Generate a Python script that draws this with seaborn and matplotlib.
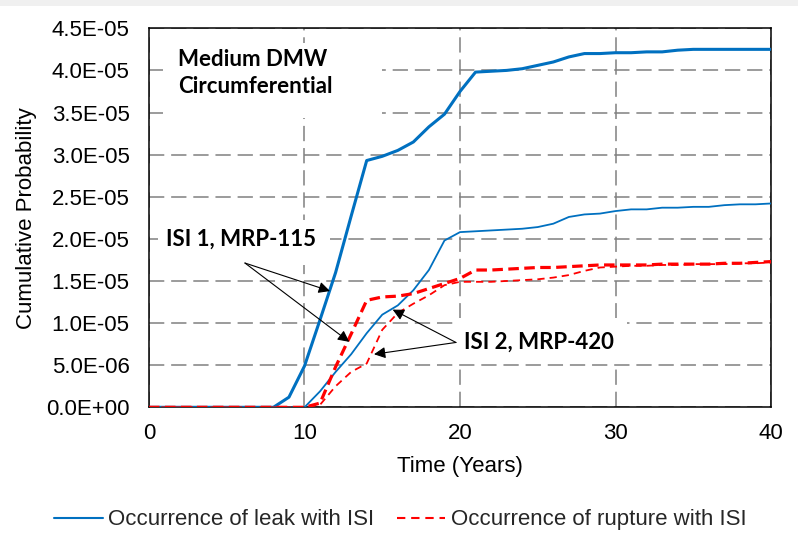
import numpy as np
import matplotlib.pyplot as plt
import seaborn as sns
from matplotlib.lines import Line2D
from matplotlib.patches import Rectangle
from matplotlib.ticker import MultipleLocator, FuncFormatter

# values, in units of 1E-05
years = list(range(0, 41))
leak_isi1 = [0, 0, 0, 0, 0, 0, 0, 0, 0, 0.12,
             0.49, 1.04, 1.60, 2.27, 2.93, 2.98, 3.05, 3.15, 3.33, 3.48,
             3.75, 3.98, 3.99, 4.00, 4.02, 4.06, 4.10, 4.16, 4.20, 4.20,
             4.21, 4.21, 4.22, 4.22, 4.24, 4.25, 4.25, 4.25, 4.25, 4.25, 4.25]
leak_isi2 = [0, 0, 0, 0, 0, 0, 0, 0, 0, 0,
             0, 0.19, 0.42, 0.63, 0.88, 1.10, 1.21, 1.39, 1.63, 1.98,
             2.08, 2.09, 2.10, 2.11, 2.12, 2.14, 2.18, 2.26, 2.29, 2.30,
             2.33, 2.35, 2.35, 2.37, 2.37, 2.38, 2.38, 2.40, 2.41, 2.41, 2.42]
rupture_isi1 = [0, 0, 0, 0, 0, 0, 0, 0, 0, 0,
                0, 0.05, 0.48, 0.87, 1.27, 1.31, 1.32, 1.35, 1.41, 1.47,
                1.53, 1.63, 1.63, 1.64, 1.65, 1.66, 1.66, 1.67, 1.68, 1.69,
                1.69, 1.69, 1.69, 1.70, 1.70, 1.70, 1.70, 1.71, 1.71, 1.72, 1.73]
rupture_isi2 = [0, 0, 0, 0, 0, 0, 0, 0, 0, 0,
                0, 0.03, 0.25, 0.42, 0.52, 0.92, 1.12, 1.23, 1.33, 1.45,
                1.49, 1.49, 1.49, 1.50, 1.51, 1.52, 1.54, 1.57, 1.62, 1.66,
                1.67, 1.68, 1.68, 1.69, 1.69, 1.70, 1.70, 1.70, 1.71, 1.71, 1.72]

legend_labels = ['Occurrence of leak with ISI', 'Occurrence of rupture with ISI']
scale = 1e-5

blue = '#0070C0'
red = '#FF0000'

sns.set_style('white')
plt.rcParams['font.family'] = ['Liberation Sans', 'DejaVu Sans']

fig = plt.figure(figsize=(7.98, 5.43), dpi=100)
fig.add_artist(Rectangle((0, 1 - 6 / 543), 1, 6 / 543, transform=fig.transFigure,
                         facecolor='#f0f0f0', edgecolor='none'))
ax = fig.add_axes([0.1867, 0.2499, 0.7795, 0.698])

# curves
sns.lineplot(x=years, y=np.array(leak_isi2) * scale, ax=ax, color=blue, lw=1.3, zorder=3)
sns.lineplot(x=years, y=np.array(leak_isi1) * scale, ax=ax, color=blue, lw=2.2, zorder=3)
sns.lineplot(x=years, y=np.array(rupture_isi2) * scale, ax=ax, color=red, lw=1.3,
             linestyle=(0, (4, 2.8)), zorder=4)
sns.lineplot(x=years, y=np.array(rupture_isi1) * scale, ax=ax, color=red, lw=2.3,
             linestyle=(0, (3.3, 1.7)), zorder=4)

ax.set_xlim(0, 40)
ax.set_ylim(0, 4.5e-5)
ax.xaxis.set_major_locator(MultipleLocator(10))
ax.yaxis.set_major_locator(MultipleLocator(5e-6))
ax.yaxis.set_major_formatter(FuncFormatter(lambda v, p: '{:.1E}'.format(v)))

ax.set_axisbelow(True)
ax.grid(True, color='#808080', linestyle=(0, (10, 4.5)), linewidth=1.1)
for s in ax.spines.values():
    s.set_color('black')
    s.set_linewidth(1.1)
ax.tick_params(direction='in', length=5, width=1, color='black', labelsize=16,
               labelcolor='black')
ax.tick_params(axis='x', pad=11.5)
ax.tick_params(axis='y', pad=14)

ax.set_xlabel('Time (Years)', fontsize=16, color='black')
ax.set_ylabel('Cumulative Probability', fontsize=16, color='black')
ax.xaxis.set_label_coords(0.5, -0.128)
ax.yaxis.set_label_coords(-0.18, 0.5)

# white boxes behind the text labels
for x0, x1, y0, y1 in [(0.90, 14.98, 3.44, 4.32),
                       (0.58, 11.64, 1.686, 2.22),
                       (19.87, 30.74, 0.513, 1.058)]:
    ax.add_patch(Rectangle((x0, y0 * scale), x1 - x0, (y1 - y0) * scale,
                           facecolor='white', edgecolor='none', zorder=1.5))

bold = dict(fontfamily=['Lato', 'DejaVu Sans'], fontweight='bold', fontsize=16,
            color='black', zorder=6)
ax.text(1.86, 3.97 * scale, 'Medium DMW\nCircumferential', ha='left', va='center',
        linespacing=1.35, **bold)
ax.text(5.89, 1.994 * scale, 'ISI 1, MRP-115', ha='center', va='center', **bold)
ax.text(25.06, 0.777 * scale, 'ISI 2, MRP-420', ha='center', va='center', **bold)

arrow = dict(arrowstyle='-|>', color='black', lw=0.8, mutation_scale=17,
             shrinkA=0, shrinkB=0)
for start, tip in [((6.17, 1.713), (11.64, 1.38)),
                   ((6.17, 1.713), (12.88, 0.777)),
                   ((19.74, 0.77), (15.67, 1.16)),
                   ((19.74, 0.77), (14.47, 0.63))]:
    ax.annotate('', xy=(tip[0], tip[1] * scale), xytext=(start[0], start[1] * scale),
                arrowprops=arrow, zorder=7)

handles = [Line2D([0], [0], color=blue, lw=1.5),
           Line2D([0], [0], color=red, lw=1.5, linestyle=(0, (4, 2.8)))]
fig.legend(handles, legend_labels, loc='center', bbox_to_anchor=(0.5015, 0.0424),
           ncol=2, frameon=False, fontsize=16, handlelength=2.2, handletextpad=0.25,
           columnspacing=1.0)

fig.savefig('out.png', dpi=100, facecolor='white')
